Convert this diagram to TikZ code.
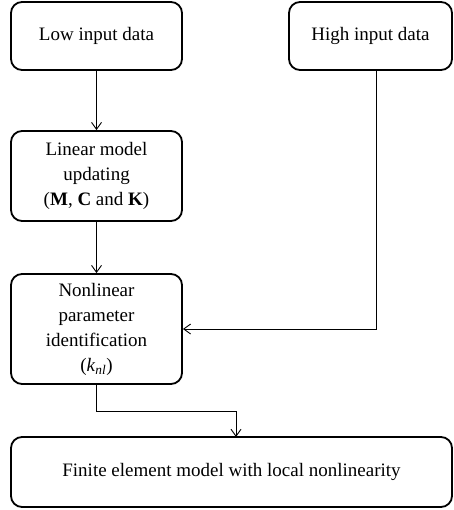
\documentclass[tikz,border=0pt]{standalone}
\usepackage{fontspec}
\setmainfont{Liberation Serif}
\usetikzlibrary{arrows.meta,calc}
\begin{document}
\begin{tikzpicture}[x=1pt,y=1pt,
  box/.style={draw, line width=1.8pt, rounded corners=11pt, align=center,
    font=\fontsize{19}{25}\selectfont, inner sep=0pt},
  conn/.style={line width=0.9pt, -{Straight Barb[length=7pt,width=10pt,line width=0.9pt]}}]
\useasboundingbox (0,0) rectangle (453,-510);
\node[box, minimum width=171pt, minimum height=68pt] (low) at (96.5,-36) {Low input data};
\node[box, minimum width=163pt, minimum height=68pt] (high) at (370.5,-36) {High input data};
\node[box, minimum width=171pt, minimum height=90pt] (lin) at (96.5,-176) {Linear model\\updating\\(\textbf{M}, \textbf{C} and \textbf{K})};
\node[box, minimum width=171pt, minimum height=110pt] (nl) at (96.5,-329) {Nonlinear\\parameter\\identification\\(\textit{k}\textsubscript{\textit{nl}})};
\node[box, minimum width=441pt, minimum height=70pt] (fe) at (231.5,-472) {Finite element model with local nonlinearity};
\coordinate (hx) at (376,-70);
\coordinate (fx) at (236,-437);
\draw[conn] (low) -- (lin);
\draw[conn] (lin) -- (nl);
\draw[conn] (hx) |- (nl.east);
\draw[conn] (nl.south) -- ++(0,-26.7) -| (fx);
\end{tikzpicture}
\end{document}
